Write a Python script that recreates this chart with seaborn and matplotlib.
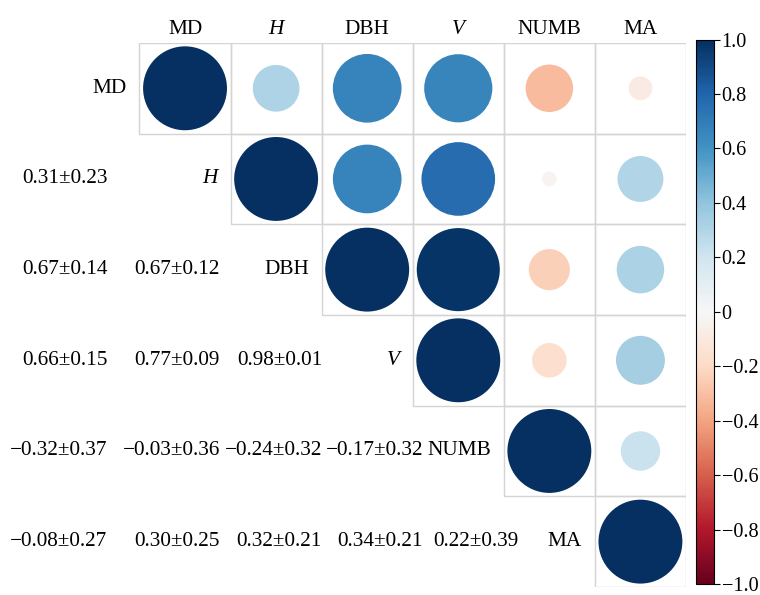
import numpy as np
import pandas as pd
import matplotlib
matplotlib.use("Agg")
import matplotlib.pyplot as plt
from matplotlib.patches import Rectangle
from matplotlib.colors import Normalize
from matplotlib.cm import ScalarMappable
import seaborn as sns

# Variables
variables = ["MD", "H", "DBH", "V", "NUMB", "MA"]
italic_vars = ["H", "V"]

# Lower-triangle correlations (row i vs columns 0..i-1) and their standard deviations
r_rows = [
    [0.31],
    [0.67, 0.67],
    [0.66, 0.77, 0.98],
    [-0.32, -0.03, -0.24, -0.17],
    [-0.08, 0.30, 0.32, 0.34, 0.22],
]
sd_rows = [
    [0.23],
    [0.14, 0.12],
    [0.15, 0.09, 0.01],
    [0.37, 0.36, 0.32, 0.32],
    [0.27, 0.25, 0.21, 0.21, 0.39],
]

cbar_ticks = [1.0, 0.8, 0.6, 0.4, 0.2, 0.0, -0.2, -0.4, -0.6, -0.8, -1.0]

n = len(variables)
corr = np.eye(n)
for i, row in enumerate(r_rows, start=1):
    for j, v in enumerate(row):
        corr[i, j] = corr[j, i] = v

# Long-form table of the upper triangle (incl. diagonal) for the circles
records = []
for i in range(n):
    for j in range(i, n):
        records.append({"col": j, "row": i, "r": corr[i, j], "absr": abs(corr[i, j])})
df = pd.DataFrame(records)

sns.set_theme(style="white")
plt.rcParams["font.family"] = ["Liberation Serif", "DejaVu Serif"]
plt.rcParams["axes.unicode_minus"] = True
plt.rcParams["text.color"] = "black"
plt.rcParams["xtick.color"] = "black"
plt.rcParams["ytick.color"] = "black"
plt.rcParams["xtick.labelcolor"] = "black"
plt.rcParams["ytick.labelcolor"] = "black"

FS = 15.3

fig = plt.figure(figsize=(7.6, 5.95), dpi=100)
ax = fig.add_axes([0.0637, 0.0135, 0.8389, 0.9143])
cax = fig.add_axes([0.9158, 0.0185, 0.0236, 0.915])

cmap = "RdBu"
norm = Normalize(vmin=-1, vmax=1)

# Cell borders for the upper triangle
for i in range(n):
    for j in range(i, n):
        ax.add_patch(Rectangle((j - 0.5, i - 0.5), 1, 1, fill=False,
                               edgecolor="#d4d4d4", lw=1.0, zorder=1))

# Circles: area proportional to |r|, colour by r
full_area = 3650
sns.scatterplot(data=df, x="col", y="row", hue="r", size="absr",
                palette=cmap, hue_norm=(-1, 1), sizes=(0, full_area),
                size_norm=(0, 1), linewidth=0, legend=False, ax=ax, zorder=2)

# Variable names next to the diagonal
for i, name in enumerate(variables):
    style = "italic" if name in italic_vars else "normal"
    ax.text(i - 0.64, i, name, ha="right", va="center", fontsize=FS,
            fontstyle=style, color="black")

# Lower-triangle text: r ± sd, right-aligned per column
text_anchor = [-0.85, 0.385, 1.505, 2.615, 3.66]


def fmt(v, digits=2):
    s = f"{abs(v):.{digits}f}"
    return ("\u2212" + s) if v < 0 else s


for i, (rrow, srow) in enumerate(zip(r_rows, sd_rows), start=1):
    for j, (rv, sv) in enumerate(zip(rrow, srow)):
        ax.text(text_anchor[j], i, f"{fmt(rv)}\u00b1{sv:.2f}", ha="right",
                va="center", fontsize=FS, color="black")

ax.set_xlim(-1.5, n - 0.5)
ax.set_ylim(n - 0.5, -0.5)
ax.set_xticks(range(n))
ax.set_xticklabels(variables, fontsize=FS)
ax.xaxis.tick_top()
ax.tick_params(axis="x", length=0, pad=3, labelcolor="black")
for tick, name in zip(ax.xaxis.get_major_ticks(), variables):
    style = "italic" if name in italic_vars else "normal"
    tick.label1.set_fontstyle(style)
    tick.label2.set_fontstyle(style)
ax.set_yticks([])
ax.set_xlabel("")
ax.set_ylabel("")
for s in ax.spines.values():
    s.set_visible(False)

# Colour bar
cb = fig.colorbar(ScalarMappable(norm=norm, cmap=cmap), cax=cax)
cb.set_ticks(cbar_ticks)
cb.set_ticklabels(["0" if t == 0 else fmt(t, 1) for t in cbar_ticks])
cb.ax.tick_params(labelsize=14.6, length=4, width=0.8, pad=1.5, direction="out",
                  color="black", labelcolor="black")
cb.outline.set_linewidth(0.8)
cb.outline.set_edgecolor("black")

fig.savefig("out.png", dpi=100)
